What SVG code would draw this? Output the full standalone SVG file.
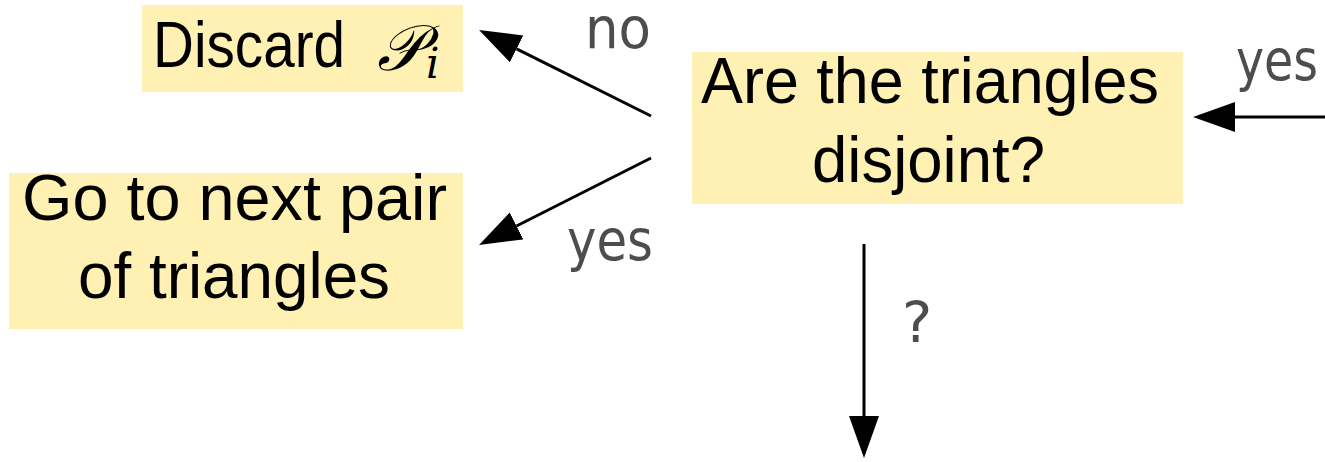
<svg xmlns="http://www.w3.org/2000/svg" width="1325" height="462" viewBox="0 0 1325 462">
<defs>
<style>
.box{fill:#fef1b3}
.t{font-family:"Liberation Sans",Arial,sans-serif;font-size:64px;fill:#000}
.m{font-family:"DejaVu Serif","Liberation Serif",serif;font-style:italic;fill:#000}
.lbl{font-family:"DejaVu Sans",sans-serif;font-size:57px;fill:#4d4d4d}
.edge{stroke:#000;stroke-width:3;fill:none;marker-end:url(#ah)}
</style>
<marker id="ah" markerUnits="userSpaceOnUse" markerWidth="44" markerHeight="32" refX="0" refY="16" orient="auto" viewBox="0 0 44 32"><path d="M0,1 L42,16 L0,31 Z" fill="#000"/></marker>
</defs>
<rect width="1325" height="462" fill="#fff"/>
<g id="discard">
<rect class="box" x="142" y="5" width="321" height="87"/>
<text class="t" x="153" y="67" textLength="192" lengthAdjust="spacingAndGlyphs">Discard</text>
<text class="m" x="377" y="70" font-size="64">𝒫</text>
<text class="m" x="426" y="78" font-size="42">i</text>
</g>
<g id="next-pair">
<rect class="box" x="9" y="173" width="454" height="156"/>
<text class="t" x="22" y="220" textLength="425" lengthAdjust="spacingAndGlyphs">Go to next pair</text>
<text class="t" x="78" y="298" textLength="312" lengthAdjust="spacingAndGlyphs">of triangles</text>
</g>
<g id="disjoint">
<rect class="box" x="692" y="52" width="491" height="152"/>
<text class="t" x="701" y="103" textLength="458" lengthAdjust="spacingAndGlyphs">Are the triangles</text>
<text class="t" x="812" y="182" textLength="233" lengthAdjust="spacingAndGlyphs">disjoint?</text>
</g>
<g id="connectors">
<line class="edge" x1="651" y1="116" x2="516.6" y2="48.8"/>
<line class="edge" x1="651" y1="158" x2="516.5" y2="226"/>
<line class="edge" x1="1325" y1="117" x2="1235" y2="117"/>
<line class="edge" x1="864" y1="244" x2="864" y2="416"/>
<text class="lbl" x="585" y="48" textLength="66" lengthAdjust="spacingAndGlyphs">no</text>
<text class="lbl" x="567" y="260" textLength="86" lengthAdjust="spacingAndGlyphs">yes</text>
<text class="lbl" x="1236" y="80" textLength="82" lengthAdjust="spacingAndGlyphs">yes</text>
<text class="lbl" x="902" y="343" font-size="62">?</text>
</g>
</svg>
